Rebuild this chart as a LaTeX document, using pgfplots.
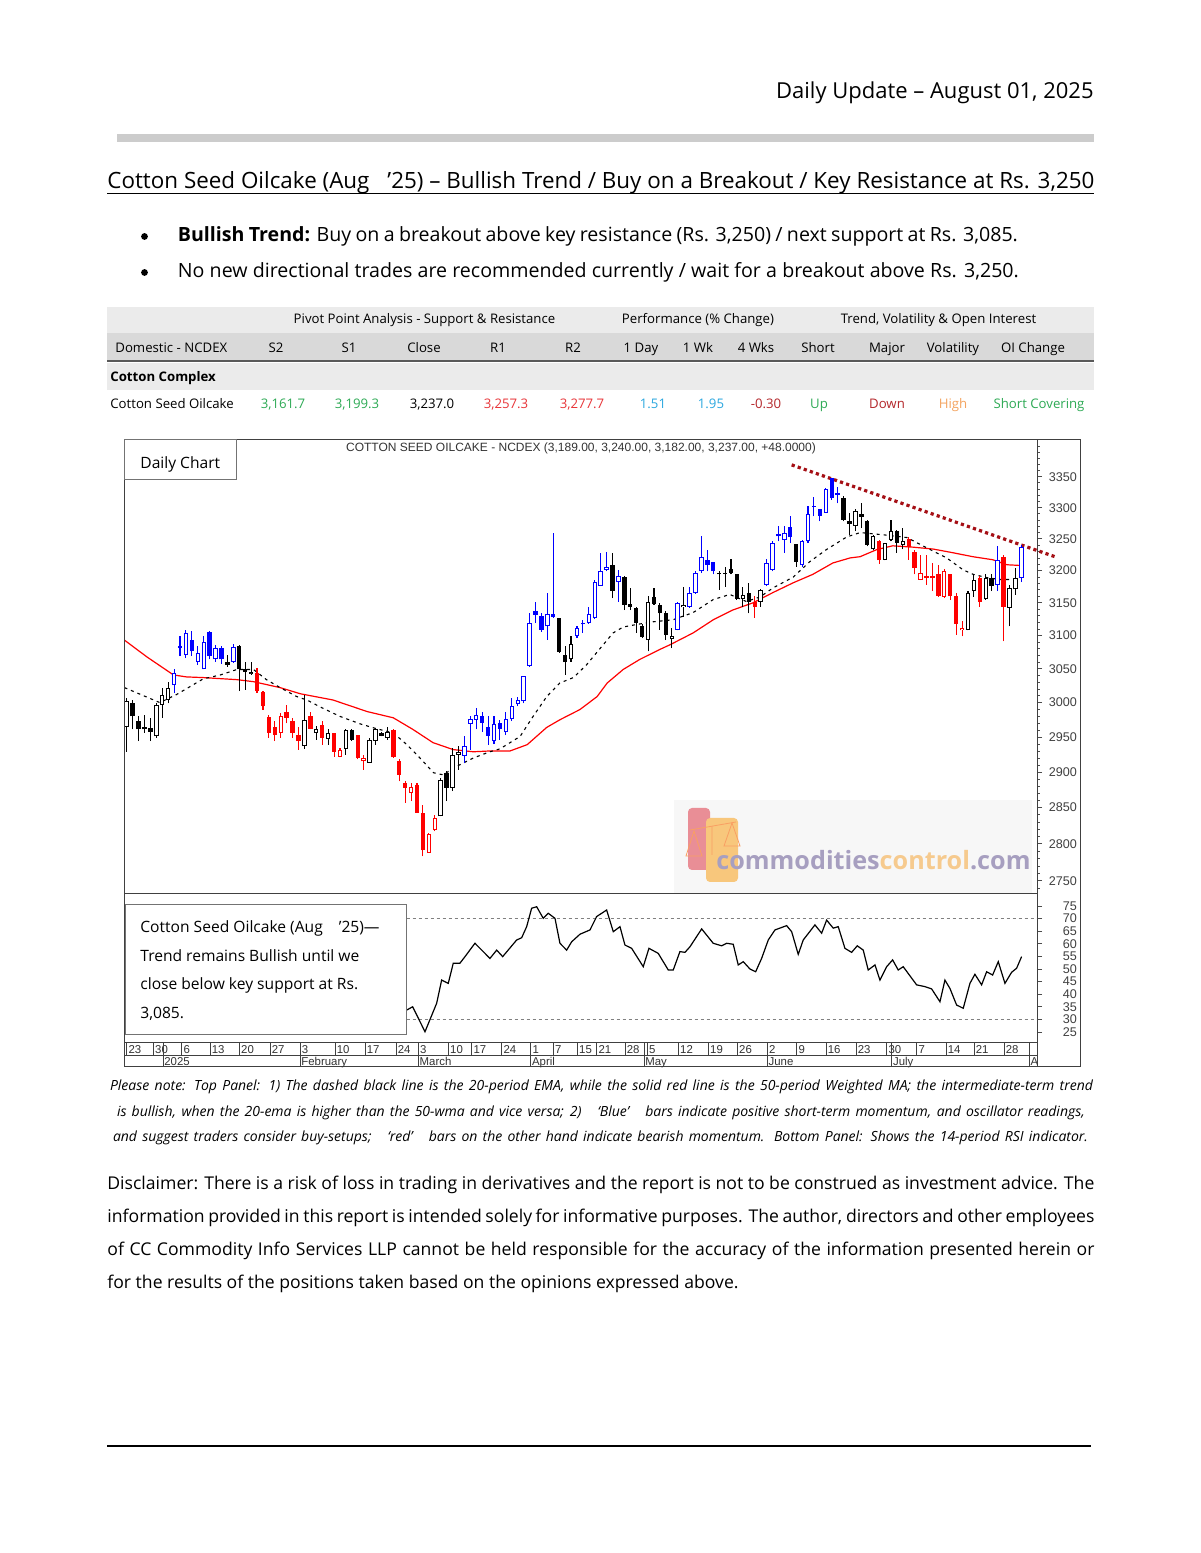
\documentclass[border=0pt]{standalone}
\usepackage{pgfplots}
\pgfplotsset{compat=1.18}
\usepackage{pgfplotstable}
\usepackage{fontspec}
\setmainfont{Open Sans}
\newfontfamily\arial{Liberation Sans}
\definecolor{tgreen}{HTML}{2EAA55}
\definecolor{tred}{HTML}{E8363A}
\definecolor{tblue}{HTML}{2AA7DF}
\definecolor{tdred}{HTML}{B4282C}
\definecolor{torange}{HTML}{F4A460}
\definecolor{rowA}{HTML}{EBEBEB}
\definecolor{rowB}{HTML}{D9D9D9}
\definecolor{barg}{HTML}{CCCCCC}
\definecolor{cblue}{RGB}{0,0,255}
\definecolor{cred}{RGB}{255,0,0}
\definecolor{trendred}{HTML}{A50F15}
\definecolor{wmpurple}{HTML}{A79FC0}
\definecolor{wmorange}{HTML}{F6CA8E}
\definecolor{wmpink}{HTML}{E98E96}
\definecolor{wmorange2}{HTML}{F8C77C}

\pgfplotsset{
 wick/.style={draw=none, mark=none, error bars/y dir=plus, error bars/y explicit, error bars/error mark=none,
   error bars/error bar style={line width=0.55pt, draw=#1}},
 body/.style={draw=none, mark=none, error bars/y dir=plus, error bars/y explicit, error bars/error mark=none,
   error bars/error bar style={line width=2.2pt, draw=#1}},
 hole/.style={draw=none, mark=none, error bars/y dir=plus, error bars/y explicit, error bars/error mark=none,
   error bars/error bar style={line width=1.2pt, draw=white, shorten <=0.5pt, shorten >=0.5pt}},
}

\pgfplotstableread{
x o h l c
8 3026 3049 3014 3044
10 3071 3109 3066 3104
12 3061 3084 3056 3074
13 3049 3099 3049 3090
15 3064 3086 3061 3081
18 3060 3088 3059 3083
57 2923 2952 2913 2937
58 2969 2980 2932 2976
59 2975 2992 2961 2982
62 2944 2980 2940 2969
64 2957 2987 2953 2976
65 2976 3007 2973 2995
66 2998 3009 2995 3004
67 3002 3040 2999 3040
68 3055 3134 3053 3119
71 3114 3165 3094 3133
76 3100 3114 3096 3111
78 3119 3144 3118 3133
79 3127 3186 3125 3183
80 3176 3228 3176 3199
81 3201 3230 3199 3206
83 3182 3201 3152 3191
93 3109 3152 3108 3150
95 3144 3175 3142 3165
96 3165 3199 3164 3197
97 3199 3254 3197 3222
108 3178 3218 3176 3212
109 3201 3246 3199 3244
111 3248 3270 3228 3259
114 3208 3248 3206 3247
115 3246 3302 3244 3289
118 3292 3332 3292 3330
147 3178 3239 3168 3217
151 3189 3240 3182 3237
}\blueU

\pgfplotstableread{
x o h l c
9 3085 3099 3069 3081
11 3094 3107 3069 3076
14 3106 3107 3064 3069
16 3081 3084 3058 3064
60 2980 2987 2958 2971
61 2965 2980 2939 2952
63 2970 2975 2946 2962
69 3138 3152 3119 3132
70 3130 3134 3106 3109
72 3133 3259 3127 3128
77 3119 3124 3104 3117
98 3217 3233 3199 3209
99 3214 3214 3194 3199
110 3258 3270 3246 3254
112 3269 3286 3243 3253
116 3303 3317 3286 3301
117 3297 3298 3278 3287
119 3348 3348 3313 3315
120 3324 3334 3307 3321
}\blueD

\pgfplotstableread{
x o h l c
0 2965 3007 2929 3002
5 2951 2999 2949 2997
6 2997 3022 2978 3012
7 3004 3031 2999 3022
21 3043 3060 3041 3046
30 2937 3012 2933 2975
32 2956 2966 2946 2962
34 2947 2962 2939 2956
37 2933 2962 2925 2960
41 2913 2949 2913 2946
42 2944 2963 2939 2961
44 2949 2965 2946 2957
53 2838 2892 2838 2889
55 2878 2934 2873 2925
56 2925 2937 2903 2929
75 3064 3099 3061 3088
88 3093 3160 3076 3152
92 3095 3111 3081 3100
94 3143 3174 3129 3147
104 3156 3174 3144 3162
107 3152 3171 3144 3170
123 3271 3297 3262 3294
126 3234 3256 3232 3254
128 3217 3244 3216 3243
129 3248 3280 3246 3262
131 3241 3267 3234 3247
142 3109 3168 3108 3165
143 3168 3195 3159 3186
145 3156 3194 3155 3188
149 3142 3178 3114 3173
150 3171 3204 3162 3188
}\blackU

\pgfplotstableread{
x o h l c
1 2999 3004 2961 2980
2 2973 2980 2944 2961
3 2965 2982 2956 2961
4 2963 2978 2944 2958
17 3060 3071 3053 3056
19 3085 3086 3017 3049
20 3049 3061 3019 3046
38 2960 2962 2944 2946
43 2956 2958 2951 2952
54 2899 2901 2859 2878
73 3127 3127 3074 3075
74 3070 3085 3041 3060
82 3208 3228 3157 3168
84 3190 3191 3139 3147
85 3149 3173 3139 3144
86 3142 3143 3104 3119
87 3115 3117 3096 3098
89 3159 3173 3147 3149
90 3147 3150 3109 3134
91 3134 3137 3093 3101
100 3196 3199 3170 3194
101 3197 3206 3175 3195
102 3202 3218 3194 3197
103 3194 3194 3155 3156
105 3165 3181 3134 3152
113 3242 3242 3206 3214
121 3315 3318 3278 3280
122 3278 3291 3256 3274
124 3290 3308 3267 3285
125 3279 3280 3238 3241
130 3262 3264 3228 3244
146 3188 3194 3168 3176
}\blackD

\pgfplotstableread{
x o h l c
26 2956 2985 2949 2980
36 2922 2934 2921 2931
40 2915 2925 2903 2920
48 2871 2885 2859 2879
51 2788 2815 2788 2813
52 2819 2839 2817 2836
134 3186 3225 3185 3196
138 3159 3202 3157 3200
141 3108 3122 3099 3111
}\redU

\pgfplotstableread{
x o h l c
22 3044 3051 3014 3017
23 3015 3017 2990 2995
24 2979 2982 2949 2956
25 2965 2973 2944 2953
27 2987 2997 2970 2978
28 2973 2978 2949 2956
29 2953 2965 2932 2944
31 2981 2987 2961 2962
33 2968 2973 2939 2949
35 2956 2956 2922 2929
39 2953 2953 2918 2920
45 2960 2961 2920 2921
46 2915 2918 2887 2896
47 2885 2887 2857 2878
49 2882 2885 2843 2843
50 2842 2854 2783 2791
106 3151 3160 3127 3144
127 3246 3248 3211 3216
132 3250 3253 3217 3237
133 3229 3232 3194 3204
135 3192 3225 3178 3188
136 3191 3212 3168 3188
137 3194 3208 3159 3161
139 3194 3194 3154 3160
140 3161 3165 3101 3118
144 3188 3191 3144 3152
148 3222 3225 3091 3144
}\redD

\pgfplotstableread{
x y
-0.37 3093
3.4 3068
7.9 3041
10.1 3038
12.9 3037
18.6 3034
21.4 3031
25.9 3022
29.3 3013
34.8 3004
40.6 2987
45.0 2978
48.3 2961
51.7 2942
55.1 2932
58.5 2929
61.3 2930
64.7 2930
67.6 2939
70.9 2964
73.1 2975
76.5 2990
79.4 3009
81.1 3029
83.8 3049
86.6 3064
90.0 3079
91.7 3086
95.6 3104
99.0 3124
102.3 3139
105.7 3150
109.1 3166
112.5 3181
115.8 3194
119.2 3212
122.1 3220
123.8 3222
126.6 3233
129.3 3239
132.7 3237
136.1 3234
139.5 3228
142.8 3222
146.2 3217
148.6 3209
150.8 3208
}\wma

\pgfplotstableread{
x y
-0.37 3022
5.6 3000
8.4 3012
12.9 3035
15.8 3041
18.6 3049
21.4 3049
23.6 3034
25.9 3022
28.7 3009
30.4 3004
32.6 2994
36.0 2980
39.4 2969
42.2 2962
45.0 2956
47.3 2939
49.5 2920
51.8 2899
53.4 2896
55.7 2908
58.5 2920
61.3 2929
63.0 2933
66.4 2951
68.6 2980
70.9 3009
73.1 3029
75.4 3037
77.6 3056
79.3 3074
82.1 3104
83.8 3113
86.1 3117
88.9 3121
92.2 3124
95.6 3135
99.0 3155
101.8 3163
104.6 3152
106.9 3159
109.1 3173
112.5 3190
115.3 3214
118.1 3233
121.5 3253
123.8 3260
128.3 3256
131.7 3252
135.0 3236
138.4 3220
141.2 3201
142.9 3194
145.2 3189
147.4 3186
149.1 3186
}\ema

\pgfplotstableread{
x y
47.26 33.7
48.27 35.0
50.35 25.1
52.32 36.4
53.16 45.6
54.28 44.3
55.12 52.3
56.25 52.3
57.10 54.9
58.78 60.2
59.92 57.5
61.32 54.2
62.45 57.5
63.46 54.9
65.82 61.5
66.67 62.4
67.51 66.8
68.35 74.1
69.20 74.7
70.31 70.1
71.16 72.1
72.29 70.1
73.13 60.2
74.26 57.5
75.11 60.8
76.51 63.8
78.20 65.5
79.32 70.8
81.01 73.4
82.13 64.8
83.26 66.8
84.10 59.5
85.23 58.2
87.19 50.9
88.15 58.2
89.72 56.2
91.41 49.6
92.25 49.6
93.38 56.9
94.23 56.6
95.07 58.8
97.05 65.9
99.00 60.2
100.42 59.2
101.27 60.2
102.38 59.8
103.22 51.6
104.07 52.9
105.20 50.0
106.16 48.9
107.17 54.2
108.29 61.5
109.42 65.5
111.39 67.2
112.24 64.8
113.35 55.8
114.19 61.5
116.17 67.5
117.30 64.2
118.14 69.4
119.26 66.2
120.10 66.8
121.23 58.2
122.36 56.6
123.31 59.2
124.32 57.5
125.16 49.6
126.30 51.6
127.14 45.6
128.27 50.9
129.28 53.6
130.23 49.6
131.07 50.9
133.33 43.7
134.73 43.0
135.86 42.1
137.27 37.0
138.11 45.6
138.95 42.3
140.08 35.7
141.20 34.4
142.33 44.3
143.17 47.9
144.30 43.7
145.15 48.9
146.16 47.6
147.11 52.9
148.24 44.3
149.37 48.7
150.21 50.3
151.05 54.9
}\rsi

\begin{document}
\begin{tikzpicture}
\useasboundingbox (0,0) rectangle (600pt,776.5pt);
\fill[white] (0,0) rectangle (600pt,776.5pt);

\begin{scope}[x=0.5pt,y=-0.5pt,yshift=776.5pt]
% header
\node[anchor=base east, inner sep=0, font=\fontsize{11}{13}\selectfont] at (1094,99) {Daily Update – August 01, 2025};
\fill[barg] (117,134) rectangle (1094,142);
\node[anchor=base west, inner sep=0, font=\fontsize{11.2}{13}\selectfont] at (107,188.5)
 {\makebox[493.5pt][s]{Cotton Seed Oilcake (Aug\hspace{9pt}’25) – Bullish Trend / Buy on a Breakout / Key Resistance at Rs. 3,250}};
\draw[line width=0.8pt] (107,193.6) -- (1094,193.6);
\fill (144.5,236.5) circle (3.4);
\fill (144.5,272.5) circle (3.4);
\node[anchor=base west, inner sep=0, font=\fontsize{9.8}{12}\selectfont] at (177.5,241.7)
 {\makebox[420pt][s]{\textbf{Bullish Trend:} Buy on a breakout above key resistance (Rs. 3,250) / next support at Rs. 3,085.}};
\node[anchor=base west, inner sep=0, font=\fontsize{9.8}{12}\selectfont] at (177.5,277.7)
 {\makebox[420.5pt][s]{No new directional trades are recommended currently / wait for a breakout above Rs. 3,250.}};
% table
\fill[rowA] (107,307) rectangle (1094,333);
\fill[rowB] (107,333) rectangle (1094,360.5);
\fill[black!65] (107,360.5) rectangle (1094,362.5);
\fill[rowA] (107,363.5) rectangle (1094,390);
\begin{scope}[every node/.style={inner sep=0, font=\fontsize{6.6}{8}\selectfont}]
\node[anchor=base] at (424.5,324) {Pivot Point Analysis - Support \& Resistance};
\node[anchor=base] at (698,324) {Performance (\% Change)};
\node[anchor=base] at (938.5,324) {Trend, Volatility \& Open Interest};
\node[anchor=base west] at (115,352.5) {Domestic - NCDEX};
\node[anchor=base] at (276,352.5) {S2};
\node[anchor=base] at (349,352.5) {S1};
\node[anchor=base] at (424,352.5) {Close};
\node[anchor=base] at (498,352.5) {R1};
\node[anchor=base] at (573,352.5) {R2};
\node[anchor=base] at (641,352.5) {1 Day};
\node[anchor=base] at (698,352.5) {1 Wk};
\node[anchor=base] at (756,352.5) {4 Wks};
\node[anchor=base] at (818,352.5) {Short};
\node[anchor=base] at (887,352.5) {Major};
\node[anchor=base] at (953,352.5) {Volatility};
\node[anchor=base] at (1033,352.5) {OI Change};
\node[anchor=base west, font=\fontsize{6.6}{8}\selectfont\bfseries] at (110,382) {Cotton Complex};
\node[anchor=base west] at (110,409) {Cotton Seed Oilcake};
\node[anchor=base, text=tgreen] at (283,409) {3,161.7};
\node[anchor=base, text=tgreen] at (357,409) {3,199.3};
\node[anchor=base] at (432,409) {3,237.0};
\node[anchor=base, text=tred] at (506,409) {3,257.3};
\node[anchor=base, text=tred] at (582,409) {3,277.7};
\node[anchor=base, text=tblue] at (653,409) {1.51};
\node[anchor=base, text=tblue] at (711,409) {1.95};
\node[anchor=base, text=tdred] at (766,409) {-0.30};
\node[anchor=base, text=tgreen] at (819,409) {Up};
\node[anchor=base, text=tdred] at (887,409) {Down};
\node[anchor=base, text=torange] at (953,409) {High};
\node[anchor=base, text=tgreen] at (1039,409) {Short Covering};
\end{scope}
% watermark
\fill[black!3] (674,800) rectangle (1032,893);
\fill[wmpink, rounded corners=2pt] (688,808) rectangle (710,870);
\fill[wmorange2, rounded corners=2pt] (706,818) rectangle (738,882);
\draw[wmorange2!80!red, line width=0.4pt] (690,830) -- (736,822) (712,826) -- (712,855) (694,831) -- (686,856) -- (702,856) -- cycle (732,823) -- (724,846) -- (740,846) -- cycle;
\node[anchor=base west, inner sep=0, font=\fontsize{12.6}{14}\selectfont\bfseries] at (716,869.5)
 {\textcolor{wmpurple}{commodities}\textcolor{wmorange}{control}\textcolor{wmpurple}{.com}};
\end{scope}

% ---------- top panel ----------
\begin{axis}[
  at={(62.25pt,329.5pt)}, anchor=south west,
  scale only axis, width=456.25pt, height=227pt,
  xmin=-0.37, xmax=153.65, ymode=log, ymin=2732.5, ymax=3411.1,
  xtick=\empty,
  ytick={2750,2800,2850,2900,2950,3000,3050,3100,3150,3200,3250,3300,3350},
  yticklabels={2750,2800,2850,2900,2950,3000,3050,3100,3150,3200,3250,3300,3350},
  minor ytick={2740,2760,2770,2780,2790,2810,2820,2830,2840,2860,2870,2880,2890,2910,2920,2930,2940,2960,2970,2980,2990,3010,3020,3030,3040,3060,3070,3080,3090,3110,3120,3130,3140,3160,3170,3180,3190,3210,3220,3230,3240,3260,3270,3280,3290,3310,3320,3330,3340,3360,3370,3380,3390,3400},
  ytick pos=right, yticklabel pos=right, tick align=outside,
  major tick length=2.6pt, minor tick length=1.3pt,
  tick style={black!70, line width=0.4pt},
  yticklabel style={font=\arial\fontsize{6.3}{7}\selectfont, text=black!75, anchor=east, inner sep=0pt, xshift=17.5pt},
  axis line style={black!75, line width=0.5pt},
  clip=false,
]
\addplot[cred, line width=0.6pt, mark=none] table[x=x,y=y] {\wma};
\addplot[black, line width=0.55pt, dash pattern=on 1.5pt off 2pt, mark=none] table[x=x,y=y] {\ema};
\addplot[trendred, line width=1.6pt, dash pattern=on 1.6pt off 1.6pt, mark=none] coordinates {(112.24,3369.7) (156.7,3221.7)};
% wicks
\addplot[wick=cblue] table[x=x,y=l,y error plus expr=\thisrow{h}-\thisrow{l}] {\blueU};
\addplot[wick=cblue] table[x=x,y=l,y error plus expr=\thisrow{h}-\thisrow{l}] {\blueD};
\addplot[wick=black] table[x=x,y=l,y error plus expr=\thisrow{h}-\thisrow{l}] {\blackU};
\addplot[wick=black] table[x=x,y=l,y error plus expr=\thisrow{h}-\thisrow{l}] {\blackD};
\addplot[wick=cred] table[x=x,y=l,y error plus expr=\thisrow{h}-\thisrow{l}] {\redU};
\addplot[wick=cred] table[x=x,y=l,y error plus expr=\thisrow{h}-\thisrow{l}] {\redD};
% bodies
\addplot[body=cblue] table[x=x,y=c,y error plus expr=\thisrow{o}-\thisrow{c}] {\blueD};
\addplot[body=black] table[x=x,y=c,y error plus expr=\thisrow{o}-\thisrow{c}] {\blackD};
\addplot[body=cred] table[x=x,y=c,y error plus expr=\thisrow{o}-\thisrow{c}] {\redD};
\addplot[body=cblue] table[x=x,y=o,y error plus expr=\thisrow{c}-\thisrow{o}] {\blueU};
\addplot[body=black] table[x=x,y=o,y error plus expr=\thisrow{c}-\thisrow{o}] {\blackU};
\addplot[body=cred] table[x=x,y=o,y error plus expr=\thisrow{c}-\thisrow{o}] {\redU};
\addplot[hole] table[x=x,y=o,y error plus expr=\thisrow{c}-\thisrow{o}] {\blueU};
\addplot[hole] table[x=x,y=o,y error plus expr=\thisrow{c}-\thisrow{o}] {\blackU};
\addplot[hole] table[x=x,y=o,y error plus expr=\thisrow{c}-\thisrow{o}] {\redU};
\end{axis}

% ---------- RSI panel ----------
\begin{axis}[
  at={(62.25pt,255pt)}, anchor=south west,
  scale only axis, width=456.25pt, height=74.5pt,
  xmin=-0.37, xmax=153.65, ymin=20.63, ymax=79.76,
  xtick=\empty,
  ytick={25,30,35,40,45,50,55,60,65,70,75},
  yticklabels={25,30,35,40,45,50,55,60,65,70,75},
  ytick pos=right, yticklabel pos=right, tick align=outside,
  major tick length=2.6pt,
  tick style={black!70, line width=0.4pt},
  yticklabel style={font=\arial\fontsize{6.3}{6.3}\selectfont, text=black!75, anchor=east, inner sep=0pt, xshift=17.5pt},
  axis line style={black!75, line width=0.5pt},
]
\addplot[black!50, line width=0.5pt, dash pattern=on 1.5pt off 1.5pt, mark=none] coordinates {(-0.37,70) (153.65,70)};
\addplot[black!50, line width=0.5pt, dash pattern=on 1.5pt off 1.5pt, mark=none] coordinates {(-0.37,30) (153.65,30)};
\addplot[black, line width=0.6pt, mark=none] table[x=x,y=y] {\rsi};
\end{axis}

\begin{scope}[x=0.5pt,y=-0.5pt,yshift=776.5pt]
% frame
\draw[black!75, line width=0.5pt] (124.5,440) -- (1080,440) -- (1080,1067) -- (124.5,1067) -- cycle;
\draw[black!75, line width=0.5pt] (124.5,1055.5) -- (1037,1055.5);
\draw[black!75, line width=0.5pt] (1037,1043) -- (1037,1067);
% boxes
\draw[fill=white, draw=black!55, line width=0.5pt] (124.5,440) rectangle (236.7,479.3);
\node[anchor=base west, inner sep=0, font=\fontsize{7.8}{9}\selectfont] at (140,468.3) {Daily Chart};
\draw[fill=white, draw=black!55, line width=0.5pt] (125.5,904.3) rectangle (406.7,1034.3);
\begin{scope}[every node/.style={anchor=base west, inner sep=0, font=\fontsize{7.8}{9}\selectfont}]
\node at (140,933) {Cotton Seed Oilcake (Aug\hspace{8pt}’25)—};
\node at (140,961.7) {Trend remains Bullish until we};
\node at (140,990) {close below key support at Rs.};
\node at (140,1018.5) {3,085.};
\end{scope}
\node[anchor=base, inner sep=0, font=\arial\fontsize{6}{7}\selectfont, text=black!80] at (581,451.5)
 {COTTON SEED OILCAKE - NCDEX (3,189.00, 3,240.00, 3,182.00, 3,237.00, +48.0000)};
% date bar
\foreach \p/\t in {126.7/23,153.3/30,181.7/6,210/13,239.3/20,270/27,300/3,335/10,365/17,396/24,418.3/3,448.3/10,471.7/17,501.7/24,530.7/1,553.3/7,577.3/15,596.7/21,625/28,647.3/5,678.3/12,708.3/19,737.3/26,767.3/2,796.7/9,826/16,856/23,886.7/30,916.7/7,946/14,974/21,1004/28}{
  \draw[black!75, line width=0.5pt] (\p,1043) -- (\p,1055.5);
  \node[anchor=base west, inner sep=0, font=\arial\fontsize{5.7}{6}\selectfont, text=black!80] at (\p+1.5,1053.5) {\t};
}
\foreach \p/\t in {163/2025,300/February,418.3/March,530.7/April,644/May,767.3/June,891.7/July,1029.3/A}{
  \draw[black!75, line width=0.5pt] (\p,1043) -- (\p,1067);
  \node[anchor=base west, inner sep=0, font=\arial\fontsize{5.7}{6}\selectfont, text=black!80] at (\p+1,1065.5) {\t};
}
% caption
\begin{scope}[every node/.style={anchor=base, inner sep=0, font=\fontsize{7}{8}\selectfont\itshape}]
\node at (601.5,1091) {\makebox[491.5pt][s]{Please note: Top Panel: 1) The dashed black line is the 20-period EMA, while the solid red line is the 50-period Weighted MA; the intermediate-term trend}};
\node at (601,1116.5) {\makebox[484pt][s]{is bullish, when the 20-ema is higher than the 50-wma and vice versa; 2)\hspace{8pt}‘Blue’\hspace{8pt}bars indicate positive short-term momentum, and oscillator readings,}};
\node at (600.5,1142) {\makebox[487.5pt][s]{and suggest traders consider buy-setups;\hspace{8pt}‘red’\hspace{8pt}bars on the other hand indicate bearish momentum. Bottom Panel: Shows the 14-period RSI indicator.}};
\end{scope}
% disclaimer
\begin{scope}[every node/.style={anchor=base west, inner sep=0, font=\fontsize{8.8}{10}\selectfont}]
\node at (107,1189.5) {\makebox[493.5pt][s]{Disclaimer: There is a risk of loss in trading in derivatives and the report is not to be construed as investment advice. The}};
\node at (107,1222.5) {\makebox[493.5pt][s]{information provided in this report is intended solely for informative purposes. The author, directors and other employees}};
\node at (107,1255.5) {\makebox[493.5pt][s]{of CC Commodity Info Services LLP cannot be held responsible for the accuracy of the information presented herein or}};
\node at (107,1288.5) {for the results of the positions taken based on the opinions expressed above.};
\end{scope}
\draw[line width=1.3pt] (107,1446) -- (1091,1446);
\end{scope}
\end{tikzpicture}
\end{document}
